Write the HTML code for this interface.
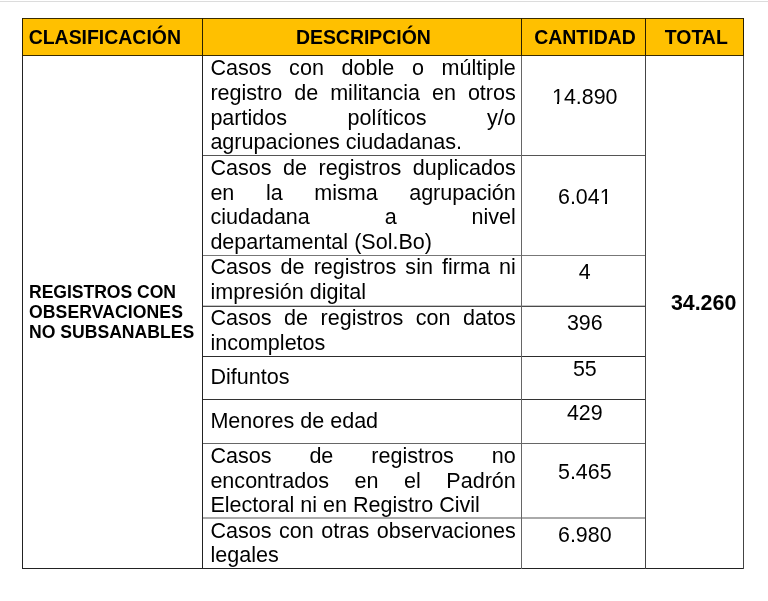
<!DOCTYPE html>
<html><head><meta charset="utf-8">
<style>
html,body{margin:0;padding:0;background:#fff;}
body{width:768px;height:601px;position:relative;overflow:hidden;font-family:"Liberation Sans",sans-serif;color:#000;}
.a{position:absolute;}
.hl{position:absolute;height:1px;background:#555;}
.vl{position:absolute;width:1px;background:#555;}
.hd{position:absolute;top:19px;height:36px;background:#ffc000;}
.h{position:absolute;top:19px;height:36px;line-height:36.5px;font-weight:bold;font-size:19.45px;text-align:center;white-space:nowrap;}
.t{position:absolute;left:210.4px;width:305.4px;font-size:21.55px;line-height:25px;height:25px;white-space:nowrap;text-align:left;}
.j{text-align:justify;text-align-last:justify;white-space:normal;}
.n{position:absolute;left:523.3px;width:123px;font-size:21.4px;line-height:25px;height:25px;text-align:center;white-space:nowrap;}
.b{position:absolute;left:29px;font-size:17.6px;font-weight:bold;line-height:20px;white-space:nowrap;}
#w{position:absolute;left:0;top:0;width:768px;height:601px;will-change:transform;}
</style></head><body><div id="w">
<div class="a" style="left:0;top:1px;width:768px;height:1px;background:#dcdcdc"></div>

<!-- header fill -->
<div class="hd" style="left:23px;width:720px"></div>

<!-- header text -->
<div class="h" style="left:23px;width:179px;text-align:left;padding-left:5.7px">CLASIFICACIÓN</div>
<div class="h" style="left:204.4px;width:318px">DESCRIPCIÓN</div>
<div class="h" style="left:523.5px;width:123px">CANTIDAD</div>
<div class="h" style="left:647.8px;width:97px">TOTAL</div>

<!-- lines -->
<div class="hl" style="left:22px;top:18px;width:722px;background:#3a2c00"></div>
<div class="hl" style="left:22px;top:55px;width:722px;background:#3a2c00"></div>
<div class="hl" style="left:202px;top:155px;width:444px"></div>
<div class="hl" style="left:202px;top:255px;width:444px;background:#777"></div>
<div class="hl" style="left:202px;top:305px;width:444px;background:#c4c4c4"></div>
<div class="hl" style="left:202px;top:306px;width:444px;background:#4a4a4a"></div>
<div class="hl" style="left:202px;top:356px;width:444px;background:#2c2c2c"></div>
<div class="hl" style="left:202px;top:399px;width:444px;background:#333"></div>
<div class="hl" style="left:202px;top:443px;width:444px;background:#666"></div>
<div class="hl" style="left:202px;top:517px;width:444px;height:2px;background:#aaa"></div>
<div class="hl" style="left:22px;top:568px;width:722px;background:#222"></div>

<div class="vl" style="left:22px;top:18px;height:551px;background:#222"></div>
<div class="vl" style="left:202px;top:18px;height:551px;background:#222"></div>
<div class="vl" style="left:521px;top:18px;height:551px;background:#666"></div>
<div class="vl" style="left:645px;top:18px;height:551px;background:#444"></div>
<div class="vl" style="left:743px;top:18px;height:551px;background:#444"></div>

<div class="vl" style="left:22px;top:18px;height:38px;background:#2a2000"></div>
<div class="vl" style="left:202px;top:18px;height:38px;background:#2a2000"></div>
<div class="vl" style="left:521px;top:18px;height:38px;background:#2a2000"></div>
<div class="vl" style="left:645px;top:18px;height:38px;background:#2a2000"></div>
<div class="vl" style="left:743px;top:18px;height:38px;background:#2a2000"></div>

<!-- left col -->
<div class="b" style="top:281.5px;letter-spacing:-0.05px">REGISTROS CON</div>
<div class="b" style="top:301.8px;letter-spacing:0.09px">OBSERVACIONES</div>
<div class="b" style="top:322px">NO SUBSANABLES</div>

<!-- desc -->
<div class="t j" style="top:55px">Casos con doble o múltiple</div>
<div class="t j" style="top:80px">registro de militancia en otros</div>
<div class="t j" style="top:105px">partidos políticos y/o</div>
<div class="t" style="top:129px">agrupaciones ciudadanas.</div>

<div class="t j" style="top:155px">Casos de registros duplicados</div>
<div class="t j" style="top:180px">en la misma agrupación</div>
<div class="t j" style="top:204px">ciudadana a nivel</div>
<div class="t" style="top:229px">departamental (Sol.Bo)</div>

<div class="t j" style="top:254px">Casos de registros sin firma ni</div>
<div class="t" style="top:279px">impresión digital</div>

<div class="t j" style="top:305px">Casos de registros con datos</div>
<div class="t" style="top:330px">incompletos</div>

<div class="t" style="top:364px">Difuntos</div>
<div class="t" style="top:408px">Menores de edad</div>

<div class="t j" style="top:443px">Casos de registros no</div>
<div class="t j" style="top:468px">encontrados en el Padrón</div>
<div class="t" style="top:492px">Electoral ni en Registro Civil</div>

<div class="t j" style="top:518px">Casos con otras observaciones</div>
<div class="t" style="top:542px">legales</div>

<!-- qty -->
<div class="n" style="top:85px">14.890</div>
<div class="n" style="top:185px">6.041</div>
<div class="n" style="top:260px">4</div>
<div class="n" style="top:311px">396</div>
<div class="n" style="top:357px">55</div>
<div class="n" style="top:401px">429</div>
<div class="n" style="top:460px">5.465</div>
<div class="n" style="top:523px">6.980</div>

<!-- hide foot serifs of "1" to mimic Arial -->
<div class="a" style="left:552.5px;top:102px;width:4.85px;height:2px;background:#fff"></div>
<div class="a" style="left:559.27px;top:102px;width:4px;height:2px;background:#fff"></div>
<div class="a" style="left:600.5px;top:202px;width:4.65px;height:2px;background:#fff"></div>
<div class="a" style="left:607px;top:202px;width:4.2px;height:2px;background:#fff"></div>

<!-- total -->
<div class="n" style="left:646px;width:115.2px;top:291.3px;font-weight:bold;font-size:21.4px">34.260</div>
</div></body></html>
